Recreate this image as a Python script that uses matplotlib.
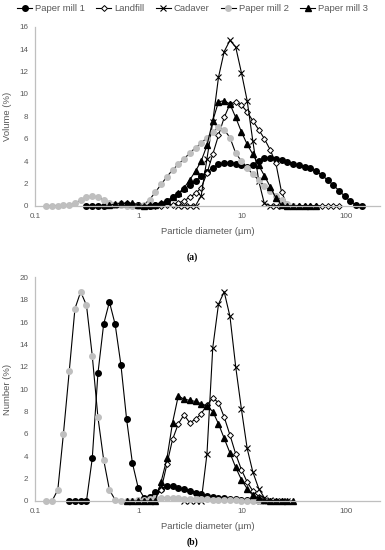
import matplotlib
matplotlib.use("Agg")
import matplotlib.pyplot as plt
from matplotlib.lines import Line2D

plt.rcParams['font.family'] = ['Liberation Sans', 'DejaVu Sans']

# Size classes (um) of the laser diffraction analyser
diam = [0.113, 0.128, 0.146, 0.166, 0.188, 0.214, 0.243, 0.276, 0.314, 0.357,
        0.405, 0.460, 0.523, 0.594, 0.675, 0.767, 0.872, 0.991, 1.13, 1.28,
        1.45, 1.65, 1.88, 2.13, 2.42, 2.75, 3.12, 3.55, 4.03, 4.58,
        5.21, 5.92, 6.72, 7.64, 8.68, 9.86, 11.2, 12.7, 14.5, 16.4,
        18.7, 21.2, 24.1, 27.4, 31.1, 35.3, 40.1, 45.6, 51.8, 58.9,
        66.9, 76.0, 86.4, 98.1, 111, 127, 144, 163]

series_names = ["Paper mill 1", "Landfill", "Cadaver", "Paper mill 2", "Paper mill 3"]

# (a) Volume distributions: first size class of each series, then values (%)
pm1_vol_start = 0.314
pm1_vol = [0, 0, 0, 0, 0.05, 0.1, 0.15, 0.15, 0.1, 0.05,
           0, 0, 0.05, 0.15, 0.4, 0.75, 1.05, 1.5, 1.85, 2.2,
           2.7, 3.0, 3.4, 3.7, 3.8, 3.85, 3.75, 3.6, 3.5, 3.65,
           4.0, 4.25, 4.3, 4.2, 4.1, 3.95, 3.75, 3.6, 3.5, 3.35,
           3.1, 2.75, 2.3, 1.85, 1.35, 0.85, 0.4, 0.05, 0]
lf_vol_start = 0.991
lf_vol = [0, 0, 0, 0, 0, 0.05, 0.1, 0.25, 0.45, 0.75,
          1.1, 1.6, 2.9, 4.6, 6.3, 7.9, 9.1, 9.3, 9.0, 8.4,
          7.6, 6.8, 6.0, 5.0, 3.8, 1.2, 0.05, 0, 0, 0,
          0, 0, 0, 0, 0, 0]
cad_vol_start = 2.42
cad_vol = [0, 0, 0, 0, 0.9, 4.2, 7.5, 11.5, 13.8, 14.8,
           14.2, 11.9, 9.4, 5.8, 2.2, 0.2, 0, 0, 0]
pm2_vol_start = 0.128
pm2_vol = [0, 0, 0, 0.02, 0.1, 0.25, 0.5, 0.75, 0.85, 0.8,
           0.5, 0.2, 0.05, 0.02, 0, 0, 0, 0.1, 0.55, 1.2,
           1.9, 2.6, 3.2, 3.7, 4.2, 4.7, 5.2, 5.6, 6.1, 6.6,
           7.0, 6.8, 6.1, 4.7, 4.0, 3.4, 2.8, 2.3, 1.8, 1.3,
           0.9, 0.5, 0.15, 0]
pm3_vol_start = 0.523
pm3_vol = [0.05, 0.15, 0.2, 0.2, 0.2, 0.1, 0, 0.05, 0.1, 0.25,
           0.45, 0.75, 1.1, 1.6, 2.3, 3.1, 4.0, 5.4, 7.6, 9.3,
           9.4, 9.1, 7.9, 6.6, 5.5, 4.6, 3.6, 2.7, 1.7, 0.7,
           0.05, 0, 0, 0, 0, 0, 0]

# (b) Number distributions
pm1_num_start = 0.214
pm1_num = [0, 0, 0, 0, 3.8, 11.4, 15.8, 17.8, 15.8, 12.2,
           7.3, 3.4, 1.2, 0.3, 0.35, 0.8, 1.1, 1.3, 1.3, 1.2,
           1.05, 0.9, 0.75, 0.6, 0.45, 0.35, 0.3, 0.25, 0.2, 0.15,
           0.1, 0.07, 0.05, 0.03, 0]
lf_num_start = 0.991
lf_num = [0.05, 0.1, 0.2, 0.3, 1.0, 3.3, 5.5, 6.9, 7.7, 7.0,
          7.3, 7.8, 8.6, 9.2, 8.8, 7.5, 5.9, 4.2, 2.8, 1.7,
          0.9, 0.4, 0.1, 0, 0, 0]
cad_num_start = 2.75
cad_num = [0, 0, 0, 0, 4.2, 13.7, 17.6, 18.7, 16.5, 12.0,
           8.2, 4.7, 2.6, 1.1, 0.3, 0.05, 0, 0, 0]
pm2_num_start = 0.128
pm2_num = [0, 0, 1.0, 6.0, 11.6, 17.2, 18.7, 17.5, 13.0, 7.5,
           3.7, 1.0, 0.1, 0, 0, 0, 0.05, 0.1, 0.15, 0.25,
           0.3, 0.3, 0.28, 0.25, 0.22, 0.2, 0.18, 0.16, 0.14, 0.12,
           0.1, 0.08, 0.06, 0.05, 0.04, 0.03, 0.02, 0.01, 0]
pm3_num_start = 0.767
pm3_num = [0, 0, 0, 0, 0, 0, 1.7, 3.8, 7.0, 9.4,
           9.1, 9.0, 8.9, 8.7, 8.5, 8.0, 6.9, 5.6, 4.3, 3.0,
           1.9, 1.1, 0.5, 0.25, 0.1, 0, 0, 0, 0, 0]

x_ticks = [0.1, 1, 10, 100]
x_ticklabels = ["0.1", "1", "10", "100"]

styles = [
    dict(marker='o', mfc='black', mec='black', ms=4.0),
    dict(marker='D', mfc='white', mec='black', ms=3.0, mew=0.7),
    dict(marker='x', mfc='black', mec='black', ms=3.8, mew=0.8),
    dict(marker='o', mfc='#BFBFBF', mec='#BFBFBF', ms=4.0),
    dict(marker='^', mfc='black', mec='black', ms=3.8),
]

TXT = '#595959'
AX = '#BFBFBF'


def xs_for(start, vals):
    i0 = diam.index(start)
    return diam[i0:i0 + len(vals)]


def style_axes(ax, ymax, ystep, ylabel):
    ax.set_xscale('log')
    ax.set_xlim(0.1, 215)
    ax.set_ylim(0, ymax)
    ax.set_yticks(range(0, ymax + 1, ystep))
    ax.set_xticks(x_ticks)
    ax.set_xticklabels(x_ticklabels)
    ax.minorticks_off()
    ax.tick_params(axis='both', length=0, labelsize=5.8, colors=TXT, pad=5)
    for s in ['top', 'right']:
        ax.spines[s].set_visible(False)
    for s in ['left', 'bottom']:
        ax.spines[s].set_color(AX)
        ax.spines[s].set_linewidth(0.9)
    ax.set_xlabel("Particle diameter (\u00b5m)", fontsize=6.8, color=TXT, labelpad=5)
    ax.set_ylabel(ylabel, fontsize=6.8, color=TXT, labelpad=5)


fig = plt.figure(figsize=(3.85, 5.5), dpi=100)
ax1 = fig.add_axes([0.091, 0.626, 0.896, 0.325])
ax2 = fig.add_axes([0.091, 0.0891, 0.896, 0.4067])

vol = [(pm1_vol_start, pm1_vol), (lf_vol_start, lf_vol), (cad_vol_start, cad_vol),
       (pm2_vol_start, pm2_vol), (pm3_vol_start, pm3_vol)]
num = [(pm1_num_start, pm1_num), (lf_num_start, lf_num), (cad_num_start, cad_num),
       (pm2_num_start, pm2_num), (pm3_num_start, pm3_num)]

for ax, data in [(ax1, vol), (ax2, num)]:
    for (start, vals), st in zip(data, styles):
        ax.plot(xs_for(start, vals), vals, color='black', lw=0.8, clip_on=False, **st)

style_axes(ax1, 16, 2, "Volume (%)")
style_axes(ax2, 20, 2, "Number (%)")

handles = [Line2D([], [], color='black', lw=0.8, **st) for st in styles]
fig.legend(handles, series_names, loc='center', bbox_to_anchor=(0.5, 0.984), ncol=5,
           frameon=False, fontsize=6.8, handlelength=1.6, handletextpad=0.3,
           columnspacing=1.2, labelcolor=TXT, borderaxespad=0)

fig.text(0.5, 1 - 257 / 550, "(a)", ha='center', va='center', fontsize=7,
         family=['Liberation Serif'], fontweight='bold')
fig.text(0.5, 1 - 542 / 550, "(b)", ha='center', va='center', fontsize=7,
         family=['Liberation Serif'], fontweight='bold')

fig.savefig("out.png", dpi=100)
